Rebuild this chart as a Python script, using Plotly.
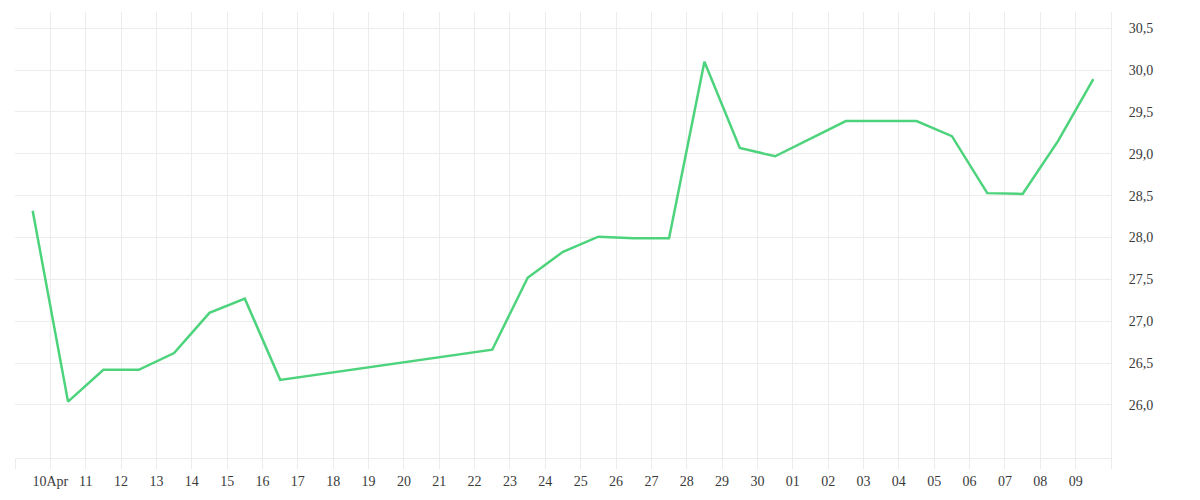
import plotly.graph_objects as go
import pandas as pd

dates = ["2024-04-09 12:00", "2024-04-10 12:00", "2024-04-11 12:00", "2024-04-12 12:00",
         "2024-04-13 12:00", "2024-04-14 12:00", "2024-04-15 12:00", "2024-04-16 12:00",
         "2024-04-22 12:00", "2024-04-23 12:00", "2024-04-24 12:00", "2024-04-25 12:00",
         "2024-04-26 12:00", "2024-04-27 12:00", "2024-04-28 12:00", "2024-04-29 12:00",
         "2024-04-30 12:00", "2024-05-02 12:00", "2024-05-03 12:00", "2024-05-04 12:00",
         "2024-05-05 12:00", "2024-05-06 12:00", "2024-05-07 12:00", "2024-05-08 12:00",
         "2024-05-09 12:00"]
values = [28.32, 26.04, 26.42, 26.42, 26.62, 27.10, 27.27, 26.30,
          26.66, 27.52, 27.83, 28.01, 27.99, 27.99, 30.10, 29.07,
          28.97, 29.39, 29.39, 29.39, 29.21, 28.53, 28.52, 29.15, 29.89]

tick_dates = pd.date_range("2024-04-09", "2024-05-10", freq="D")
tick_labels = [""] + ["10Apr"] + [d.strftime("%d") for d in tick_dates[2:-1]] + [""]
y_ticks = [26.0, 26.5, 27.0, 27.5, 28.0, 28.5, 29.0, 29.5, 30.0, 30.5]

grid = "#ececec"
font_family = "Liberation Serif"

fig = go.Figure()
fig.add_trace(go.Scatter(
    x=dates, y=values, mode="lines",
    line=dict(color="#4cd37b", width=2.5),
    showlegend=False, hoverinfo="x+y",
))

fig.update_layout(
    width=1200, height=500,
    margin=dict(l=7, r=97, t=4, b=50),
    plot_bgcolor="white", paper_bgcolor="white",
    separators=",.",
    font=dict(family=font_family, size=14, color="#3a3a3a"),
)
fig.update_xaxes(
    type="date",
    range=["2024-04-09", "2024-05-10"],
    tickvals=list(tick_dates), ticktext=tick_labels,
    showgrid=True, gridcolor=grid, gridwidth=1,
    ticks="outside", ticklen=10, tickcolor=grid, tickwidth=1,
    showline=True, linecolor=grid, linewidth=1,
    zeroline=False,
    tickfont=dict(family=font_family, size=14, color="#3a3a3a"),
)
fig.update_yaxes(
    side="right",
    range=[25.367, 30.693],
    tickvals=y_ticks, tickformat=".1f",
    showgrid=True, gridcolor=grid, gridwidth=1,
    ticks="outside", ticklen=14, tickcolor="rgba(0,0,0,0)",
    showline=True, linecolor=grid, linewidth=1,
    zeroline=False,
    tickfont=dict(family=font_family, size=14, color="#3a3a3a"),
)

fig.write_html("out.html")
